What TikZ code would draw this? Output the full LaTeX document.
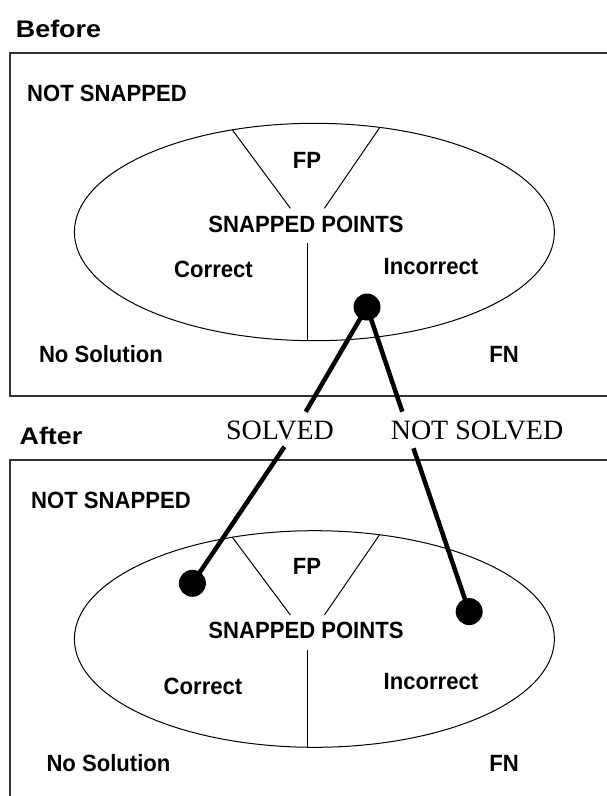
\documentclass[tikz,border=0pt]{standalone}
\usepackage{fontspec}
\setmainfont{Liberation Sans}
\newfontfamily\lserif{Liberation Serif}
\newfontfamily\narrowsans[FakeStretch=0.94]{Liberation Sans}
\newfontfamily\widesans[FakeStretch=1.12]{Liberation Sans}
\begin{document}
\begin{tikzpicture}[x=1pt,y=-1pt,
  lbl/.style={font=\narrowsans\fontsize{23.5}{27}\selectfont\bfseries, inner sep=0pt},
  ttl/.style={font=\widesans\fontsize{24}{28}\selectfont\bfseries, inner sep=0pt},
  solv/.style={font=\lserif\fontsize{28}{32}\selectfont, inner sep=0pt},
  frame/.style={draw=black!80, line width=2pt},
  thinline/.style={draw=black, line width=1pt},
  conn/.style={draw=black, line width=4.5pt},
  dotnode/.style={circle, fill=black, inner sep=0pt, minimum size=27pt}]
\useasboundingbox (0,0) rectangle (607,796);
\clip (0,0) rectangle (607,796);
% ---------- Before panel ----------
\node[ttl] (before) at (58.5,28.5) {Before};
\draw[frame] (10,53) rectangle (630,396);
\node[lbl] (ns1) at (107,93.3) {NOT SNAPPED};
\draw[thinline] (314.4,232) ellipse [x radius=240, y radius=108.7];
\coordinate (fpl1a) at (232.3,129.8);
\coordinate (fpl1b) at (290.4,208.3);
\coordinate (fpr1a) at (379.4,128);
\coordinate (fpr1b) at (324.4,208.3);
\draw[thinline] (fpl1a) -- (fpl1b);
\draw[thinline] (fpr1a) -- (fpr1b);
\coordinate (v1a) at (307.8,242.7);
\coordinate (v1b) at (307.8,340.7);
\draw[thinline] (v1a) -- (v1b);
\node[lbl] (fp1) at (307,160) {FP};
\node[lbl] (sp1) at (306,224) {SNAPPED POINTS};
\node[lbl] (cor1) at (213.5,269.3) {Correct};
\node[lbl] (inc1) at (431,266.7) {Incorrect};
\node[lbl] (nos1) at (101,354) {No Solution};
\node[lbl] (fn1) at (504,354) {FN};
% ---------- After panel ----------
\node[ttl] (after) at (51,435.5) {After};
\draw[frame] (10,460) rectangle (630,830);
\node[lbl] (ns2) at (111,500.7) {NOT SNAPPED};
\draw[thinline] (314.4,639) ellipse [x radius=240, y radius=108.3];
\coordinate (fpl2a) at (232.3,537.2);
\coordinate (fpl2b) at (290.4,615);
\coordinate (fpr2a) at (379.4,535);
\coordinate (fpr2b) at (324.4,615);
\draw[thinline] (fpl2a) -- (fpl2b);
\draw[thinline] (fpr2a) -- (fpr2b);
\coordinate (v2a) at (307.8,650);
\coordinate (v2b) at (307.8,747.3);
\draw[thinline] (v2a) -- (v2b);
\node[lbl] (fp2) at (307,566.7) {FP};
\node[lbl] (sp2) at (306,630) {SNAPPED POINTS};
\node[lbl] (cor2) at (203,686.7) {Correct};
\node[lbl] (inc2) at (431,681.7) {Incorrect};
\node[lbl] (nos2) at (108.5,763) {No Solution};
\node[lbl] (fn2) at (504,763) {FN};
% ---------- transitions ----------
\node[solv] (solved) at (280,430) {SOLVED};
\node[solv] (notsolved) at (477,430) {NOT SOLVED};
\coordinate (d1) at (367,307);
\coordinate (d2) at (192.4,583.3);
\coordinate (d3) at (469.2,611.6);
\coordinate (sa) at (305.8,411.7);
\coordinate (sb) at (284.5,446.7);
\coordinate (na) at (402.3,411.7);
\coordinate (nb) at (413.5,448.3);
\draw[conn] (d1) -- (sa);
\draw[conn] (sb) -- (d2);
\draw[conn] (d1) -- (na);
\draw[conn] (nb) -- (d3);
\node[dotnode] (dot1) at (d1) {};
\node[dotnode] (dot2) at (d2) {};
\node[dotnode] (dot3) at (d3) {};
\end{tikzpicture}
\end{document}
